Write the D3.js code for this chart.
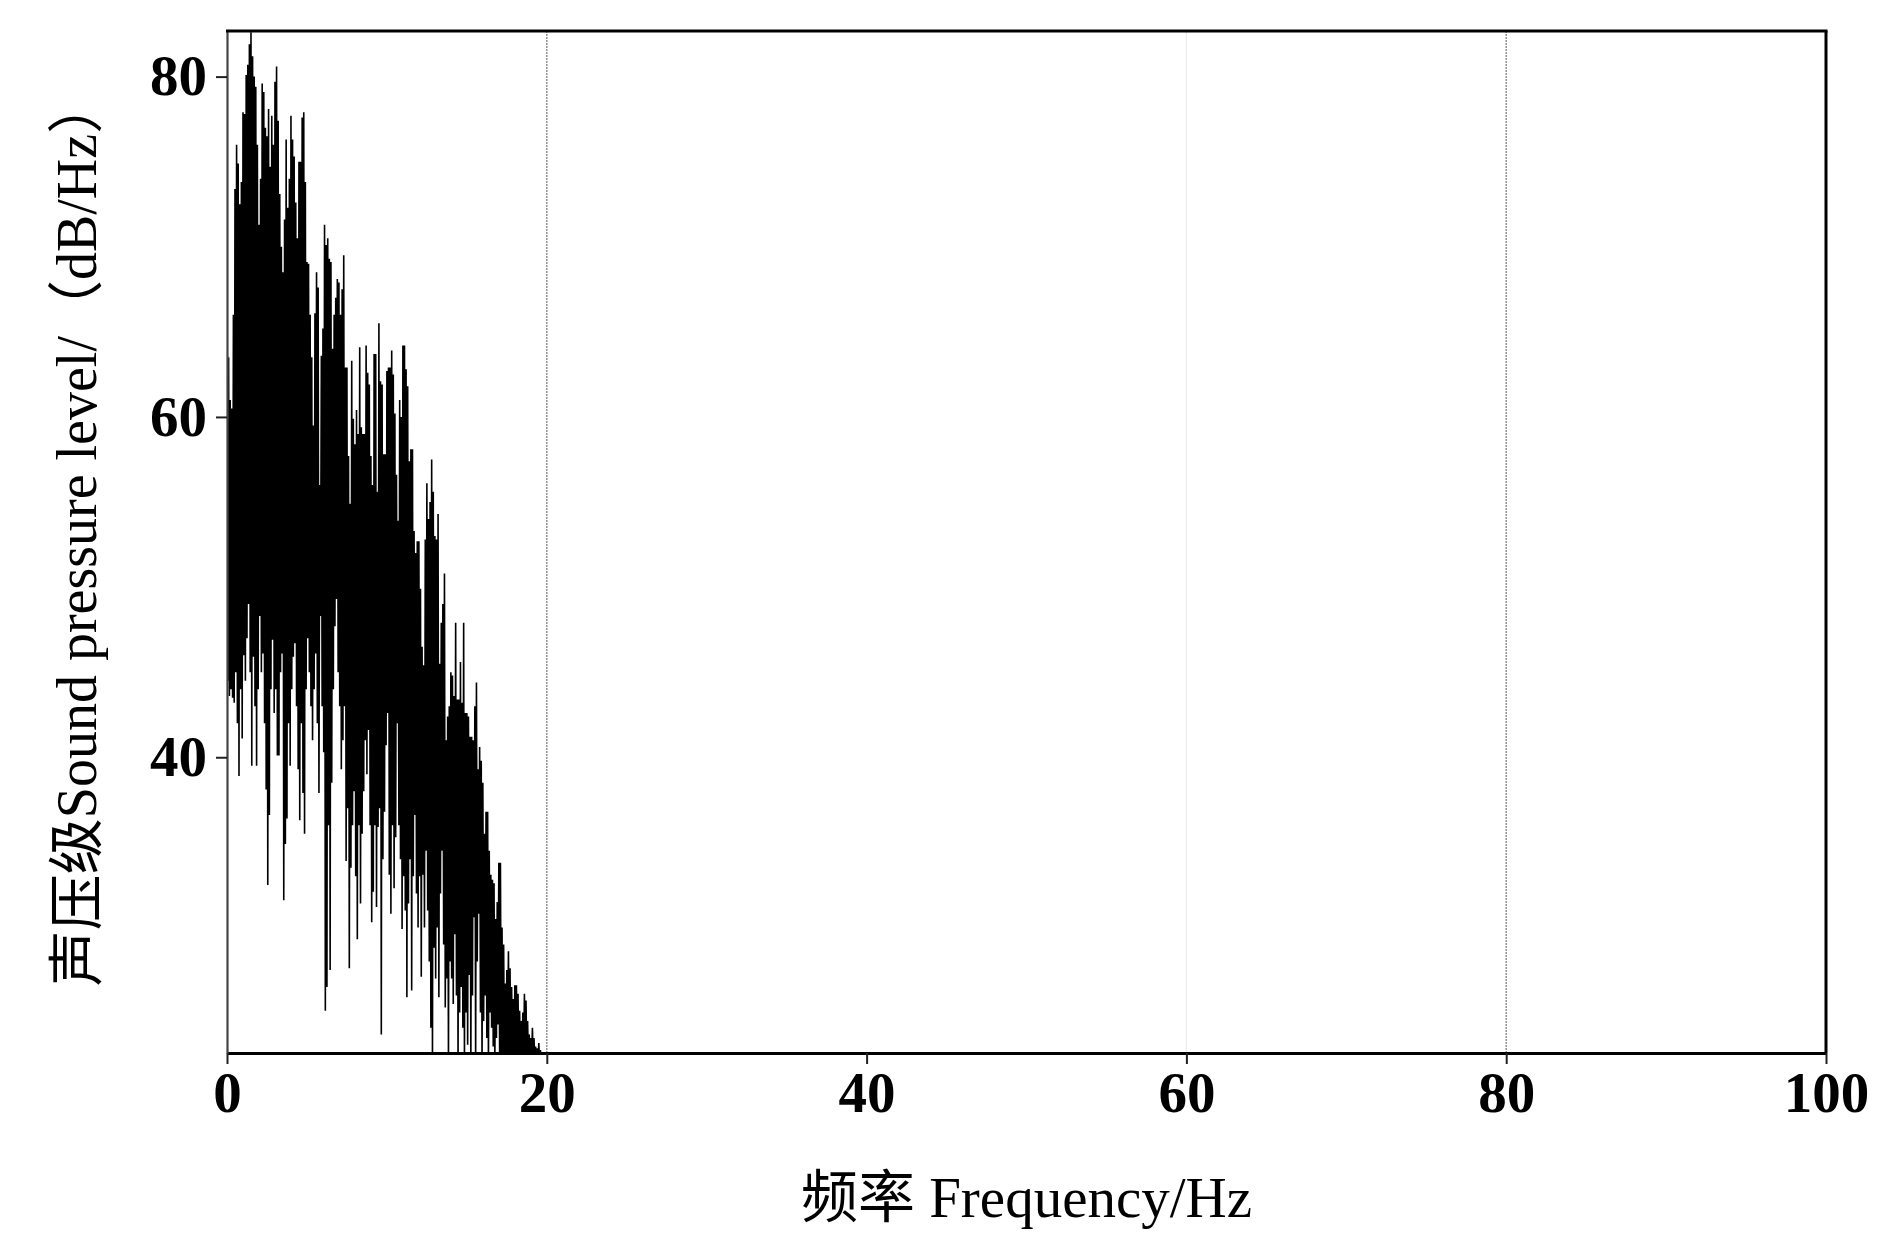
<!DOCTYPE html>
<html>
<head>
<meta charset="utf-8">
<script src="https://cdn.jsdelivr.net/npm/d3@7/dist/d3.min.js"></script>
<style>
  html, body { margin: 0; padding: 0; background: #fff; }
  svg { display: block; }
</style>
</head>
<body>
<svg id="chart" width="1890" height="1257"></svg>
<script>
// ---- Data ----
// Spectrum sampled in 0.1 Hz bins starting at 0 Hz; for each bin the local
// peak and trough levels (dB/Hz) of the noisy trace.
const binWidth = 0.1;
const peakLevels = [
  65.4, 63.5, 61.0, 60.5, 66.0, 73.4, 76.0, 74.9, 72.5, 73.8,
  77.9, 77.8, 80.1, 80.7, 81.9, 82.6, 81.2, 80.0, 79.4, 76.0,
  71.3, 74.0, 79.6, 79.1, 77.0, 76.5, 78.1, 74.7, 77.7, 76.0,
  79.7, 80.6, 77.4, 73.1, 70.0, 68.5, 71.6, 76.3, 72.3, 74.0,
  77.7, 76.3, 75.3, 72.6, 70.5, 75.0, 75.0, 77.6, 77.9, 73.8,
  69.1, 69.0, 66.0, 63.5, 59.5, 66.1, 68.5, 67.6, 56.0, 63.6,
  65.2, 71.3, 70.1, 70.5, 69.3, 69.1, 64.0, 66.0, 67.0, 68.1,
  67.9, 66.0, 67.5, 69.5, 62.9, 62.9, 57.7, 54.9, 63.3, 59.9,
  58.4, 60.4, 59.0, 64.1, 59.4, 59.0, 59.0, 64.2, 62.6, 61.9,
  57.7, 56.0, 63.7, 63.7, 55.6, 65.5, 62.1, 61.9, 57.8, 57.8,
  62.7, 62.9, 62.9, 63.9, 62.5, 60.2, 56.6, 53.9, 61.0, 60.0,
  64.2, 64.2, 62.8, 61.8, 57.4, 58.1, 58.1, 53.3, 52.0, 52.7,
  52.7, 49.9, 46.5, 45.4, 52.8, 56.1, 54.0, 55.0, 57.5, 55.6,
  53.0, 52.8, 54.3, 45.5, 47.9, 49.0, 50.8, 41.0, 42.4, 43.0,
  45.0, 44.8, 43.6, 47.9, 43.4, 43.4, 45.6, 43.2, 47.9, 42.6,
  42.6, 42.4, 41.2, 41.2, 41.0, 43.0, 44.4, 39.3, 40.6, 39.8,
  38.5, 35.5, 36.8, 36.8, 34.5, 33.1, 32.8, 32.6, 30.5, 31.5,
  33.8, 33.8, 30.0, 29.0, 26.7, 27.5, 28.6, 27.6, 26.5, 25.8,
  26.6, 26.6, 26.1, 25.1, 24.5, 25.0, 26.1, 25.7, 24.5, 23.7,
  23.5, 24.1, 23.5, 23.0, 22.9, 23.2, 22.8
];
const troughLevels = [
  44.5, 43.6, 44.0, 43.5, 43.2, 45.0, 42.0, 38.9, 44.0, 41.1,
  46.0, 44.5, 47.0, 49.0, 45.0, 39.5, 45.9, 43.0, 39.5, 44.0,
  48.3, 45.0, 46.1, 42.0, 38.1, 32.5, 36.6, 44.0, 46.9, 42.6,
  44.0, 40.1, 40.1, 45.0, 46.1, 31.6, 34.9, 36.4, 42.0, 39.5,
  44.0, 45.9, 46.7, 43.0, 39.3, 36.3, 42.0, 37.9, 35.5, 44.0,
  47.0, 45.0, 43.0, 41.0, 44.0, 46.1, 42.0, 37.9, 48.3, 43.0,
  40.3, 25.1, 26.5, 36.0, 27.5, 38.5, 44.0, 47.7, 49.3, 45.0,
  43.0, 39.3, 41.0, 43.0, 33.9, 37.0, 27.6, 33.5, 36.0, 38.0,
  33.0, 29.3, 36.0, 31.4, 35.5, 38.0, 41.0, 39.0, 41.6, 36.0,
  30.3, 32.1, 36.0, 31.2, 35.9, 37.0, 23.7, 34.0, 36.8, 40.7,
  42.6, 33.1, 30.8, 36.0, 32.3, 35.3, 42.0, 36.0, 34.0, 29.9,
  33.0, 31.0, 25.9, 31.4, 34.0, 26.3, 33.0, 36.6, 32.0, 30.0,
  33.0, 27.1, 33.1, 30.0, 34.5, 31.0, 28.0, 24.1, 22.0, 28.8,
  27.0, 30.0, 25.9, 32.0, 34.5, 29.0, 25.3, 27.0, 22.0, 28.0,
  27.0, 25.5, 29.6, 26.0, 22.0, 25.0, 26.5, 24.1, 22.0, 25.0,
  23.1, 27.2, 22.0, 26.0, 30.6, 22.0, 28.0, 30.8, 25.0, 22.0,
  24.5, 26.0, 23.5, 22.0, 25.0, 24.1, 23.0, 22.0, 23.5, 24.3,
  22.5, 22.0, 22.3, 22.0, 22.0, 22.4, 22.0, 22.0, 22.2, 22.0,
  22.0, 22.3, 22.0, 22.0, 22.1, 22.0, 22.0, 22.2, 22.0, 22.0,
  22.0, 22.0, 22.1, 22.0, 22.0, 22.0, 22.0
];
const xTicks = [0, 20, 40, 60, 80, 100];
const yTicks = [40, 60, 80];
const xDomain = [0, 100];
const yDomain = [22.62, 82.68];
const gridDark = [20, 80];
const gridLight = [60];
const xLabel = "频率 Frequency/Hz";
const yLabel = "声压级Sound pressure level/（dB/Hz）";

// ---- Layout ----
const svg = d3.select("#chart");
const m = { left: 227, right: 1826, top: 31, bottom: 1053 };
const x = d3.scaleLinear().domain(xDomain).range([m.left, m.right]);
const y = d3.scaleLinear().domain(yDomain).range([m.bottom, m.top]);

svg.append("rect").attr("width", 1890).attr("height", 1257).attr("fill", "#fff");

svg.append("defs").append("clipPath").attr("id", "plot")
  .append("rect").attr("x", m.left).attr("y", m.top)
  .attr("width", m.right - m.left).attr("height", m.bottom - m.top);

// grid lines
svg.append("g").selectAll("line").data(gridLight).join("line")
  .attr("x1", d => x(d)).attr("x2", d => x(d))
  .attr("y1", m.top).attr("y2", m.bottom)
  .attr("stroke", "#ececec").attr("stroke-width", 1.2);
svg.append("g").selectAll("line").data(gridDark).join("line")
  .attr("x1", d => x(d)).attr("x2", d => x(d))
  .attr("y1", m.top).attr("y2", m.bottom)
  .attr("stroke", "#8a8a8a").attr("stroke-width", 1.4)
  .attr("stroke-dasharray", "2,1");

// trace: each bin goes peak -> trough
const pts = [];
peakLevels.forEach((p, i) => {
  const f = i * binWidth;
  pts.push([f, p]);
  pts.push([f + binWidth / 2, troughLevels[i]]);
});
const line = d3.line().x(d => x(d[0])).y(d => y(d[1]));
svg.append("path")
  .attr("clip-path", "url(#plot)")
  .attr("d", line(pts))
  .attr("fill", "none")
  .attr("stroke", "#000")
  .attr("stroke-width", 1.6)
  .attr("stroke-linejoin", "bevel");

// axes
const tickFont = "'Liberation Serif', 'DejaVu Serif', serif";
const xAxis = svg.append("g").attr("transform", `translate(0,${m.bottom})`)
  .call(d3.axisBottom(x).tickValues(xTicks).tickSize(11).tickSizeOuter(0).tickPadding(8).tickFormat(d3.format("d")));
xAxis.select(".domain").attr("stroke", "#000").attr("stroke-width", 3);
xAxis.selectAll(".tick line").attr("stroke", "#222").attr("stroke-width", 2);
xAxis.selectAll("text").attr("font-family", tickFont).attr("font-weight", "bold")
  .attr("font-size", 57).attr("fill", "#000");

const yAxis = svg.append("g").attr("transform", `translate(${m.left},0)`)
  .call(d3.axisLeft(y).tickValues(yTicks).tickSize(11).tickSizeOuter(0).tickPadding(9).tickFormat(d3.format("d")));
yAxis.select(".domain").attr("stroke", "#444").attr("stroke-width", 2.2);
yAxis.selectAll(".tick line").attr("stroke", "#222").attr("stroke-width", 2);
yAxis.selectAll("text").attr("font-family", tickFont).attr("font-weight", "bold")
  .attr("font-size", 57).attr("fill", "#000");

// top & right frame
svg.append("line").attr("x1", m.left - 1).attr("x2", m.right + 1.5)
  .attr("y1", m.top).attr("y2", m.top).attr("stroke", "#000").attr("stroke-width", 3);
svg.append("line").attr("x1", m.right).attr("x2", m.right)
  .attr("y1", m.top).attr("y2", m.bottom).attr("stroke", "#000").attr("stroke-width", 3);

// axis labels
const labFont = "'Liberation Serif', 'Noto Sans CJK SC', serif";
svg.append("text")
  .attr("x", (m.left + m.right) / 2).attr("y", 1217)
  .attr("text-anchor", "middle")
  .attr("font-family", labFont).attr("font-size", 57).attr("fill", "#000")
  .text(xLabel);
svg.append("text")
  .attr("transform", `translate(96,${532}) rotate(-90)`)
  .attr("text-anchor", "middle")
  .attr("font-family", labFont).attr("font-size", 56).attr("fill", "#000")
  .text(yLabel);
</script>
</body>
</html>
